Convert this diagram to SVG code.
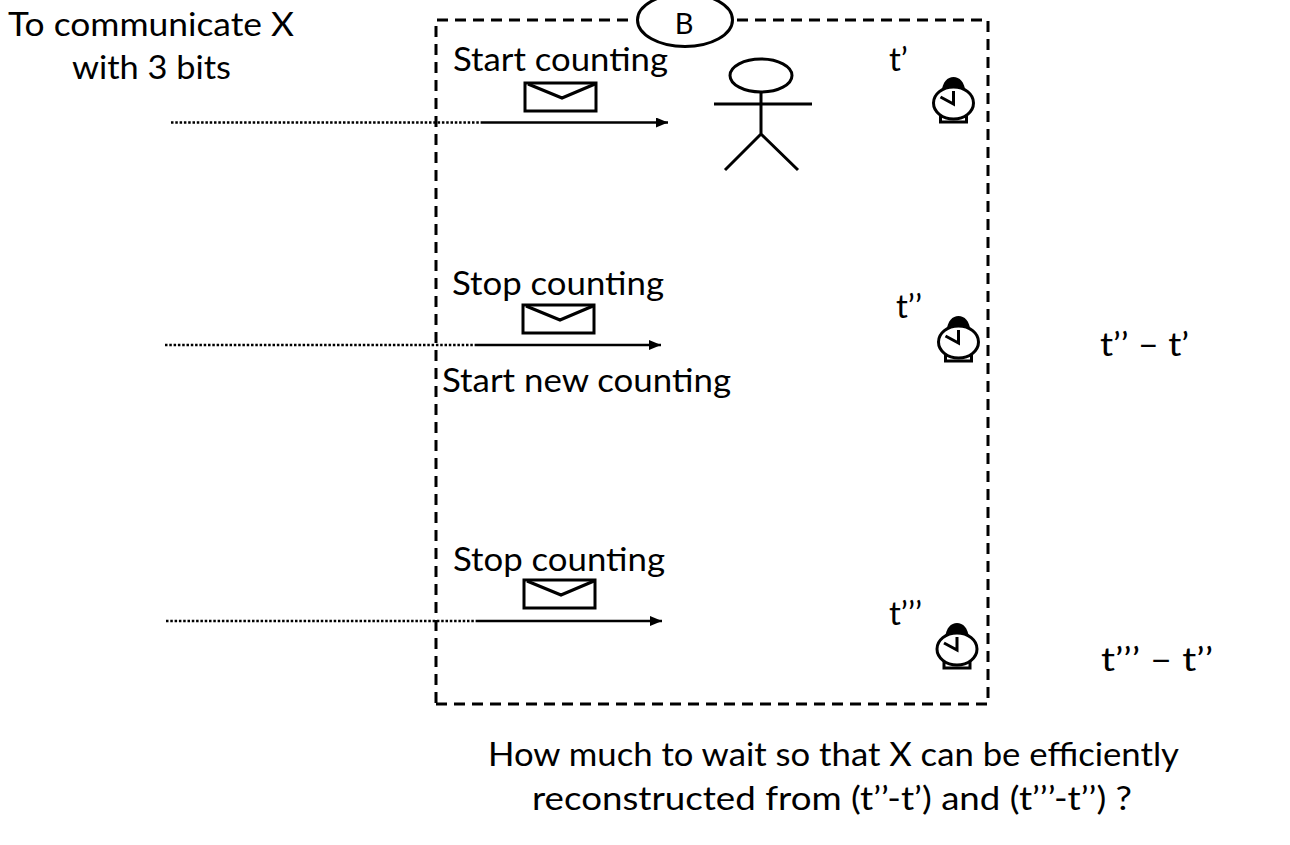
<svg xmlns="http://www.w3.org/2000/svg" width="1290" height="845" viewBox="0 0 1290 845">
<style>
text{font-family:"Lato","Open Sans","Liberation Sans",sans-serif;font-size:33px;fill:#000}
.s{fill:none;stroke:#000;stroke-width:3}
.w{fill:#fff;stroke:#000;stroke-width:3}
.dash{fill:none;stroke:#000;stroke-width:3;stroke-dasharray:11 7}
.dot{stroke:#000;stroke-width:2.500;stroke-dasharray:2.500 1.800;fill:none}
.ln{stroke:#000;stroke-width:2.500;fill:none}
</style>
<defs>
<marker id="arr" markerUnits="userSpaceOnUse" markerWidth="13" markerHeight="12" refX="12" refY="5" orient="auto"><path d="M0 0L12 5L0 10z" fill="#000"/></marker>
<g id="clock">
<path d="M-12 -11C-11 -21 -6 -26 0 -26C6 -26 11 -21 12 -11z" fill="#000"/>
<path d="M-13 9V19H13V9" class="s"/>
<ellipse cx="0" cy="0" rx="20" ry="16" class="w"/>
<path d="M0 -12V1L-13 -6" class="s"/>
</g>
<g id="env"><rect x="0" y="0" width="71" height="28" class="w"/><path d="M3 1L37 15L70 1" class="s"/></g>
</defs>
<g id="connectors">
<path class="dash" d="M436 704H988V20H735"/>
<path class="dash" d="M628 20H436V704"/>
<path class="dot" d="M171 122.500H483"/>
<path class="ln" d="M483 122.500H668" marker-end="url(#arr)"/>
<path class="dot" d="M165 345H476"/>
<path class="ln" d="M476 345H661" marker-end="url(#arr)"/>
<path class="dot" d="M166 621H477"/>
<path class="ln" d="M477 621H662" marker-end="url(#arr)"/>
</g>
<g id="node-b"><ellipse cx="685" cy="20" rx="47.500" ry="26.500" class="w"/><text x="684" y="34" text-anchor="middle" style="font-size:29px">B</text></g>
<g id="person"><ellipse cx="761" cy="75.500" rx="31" ry="16.500" class="s"/><path class="s" d="M761 92V134M714 104H812M761 134L725 170M761 134L798 170"/></g>
<g id="msg1"><use href="#env" x="525" y="83"/></g>
<g id="msg2"><use href="#env" x="523" y="305"/></g>
<g id="msg3"><use href="#env" x="524" y="580"/></g>
<g id="clock1"><use href="#clock" x="953.500" y="103"/></g>
<g id="clock2"><use href="#clock" x="958.500" y="342"/></g>
<g id="clock3"><use href="#clock" x="957" y="649"/></g>
<g id="labels">
<text x="8" y="36" textLength="286" lengthAdjust="spacingAndGlyphs">To communicate X</text>
<text x="72" y="79" textLength="159" lengthAdjust="spacingAndGlyphs">with 3 bits</text>
<text x="453" y="71" textLength="215" lengthAdjust="spacingAndGlyphs">Start counting</text>
<text x="452" y="295" textLength="212" lengthAdjust="spacingAndGlyphs">Stop counting</text>
<text x="442" y="392" textLength="289" lengthAdjust="spacingAndGlyphs">Start new counting</text>
<text x="453" y="571" textLength="212" lengthAdjust="spacingAndGlyphs">Stop counting</text>
<text x="889" y="71">t’</text>
<text x="896" y="318">t’’</text>
<text x="889" y="625">t’’’</text>
<text x="1100" y="356" textLength="89" lengthAdjust="spacingAndGlyphs">t’’ – t’</text>
<text x="1101" y="671" textLength="112" lengthAdjust="spacingAndGlyphs">t’’’ – t’’</text>
<text x="488" y="766" textLength="691" lengthAdjust="spacingAndGlyphs">How much to wait so that X can be efficiently</text>
<text x="532" y="810" textLength="600" lengthAdjust="spacingAndGlyphs">reconstructed from (t’’-t’) and (t’’’-t’’) ?</text>
</g>
</svg>
